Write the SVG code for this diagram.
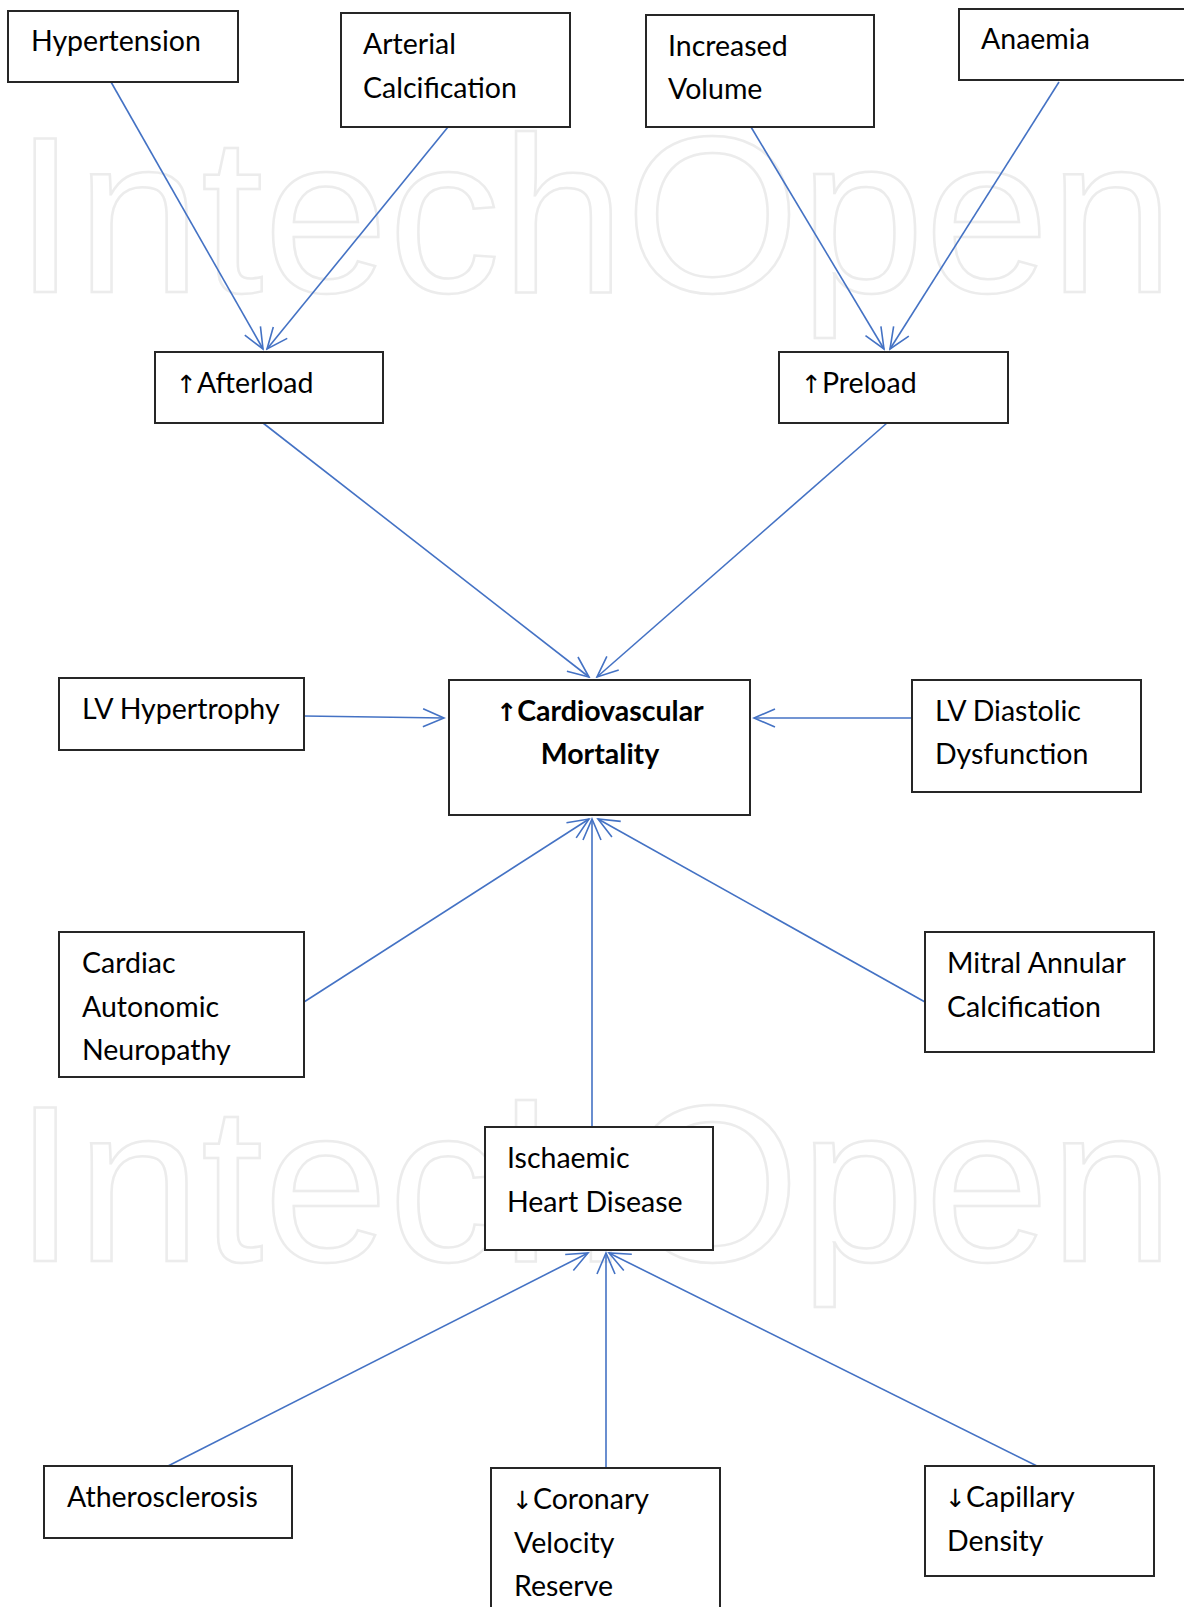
<svg xmlns="http://www.w3.org/2000/svg" width="1184" height="1607" viewBox="0 0 1184 1607">
<style>
.bg{fill:#fff}
.wm{font-family:"Liberation Sans",Arial,sans-serif;font-size:222px;fill:none;stroke:#ececec;stroke-width:2.5}
.box{fill:#fff;stroke:#262626;stroke-width:2}
.t{font-family:Lato,"Liberation Sans",sans-serif;font-size:28.5px;fill:#000}
.b{font-weight:bold}
.ar{font-family:"DejaVu Sans",sans-serif;font-size:25px}
.c{stroke:#4472C4;stroke-width:1.6;fill:none;marker-end:url(#ah)}
</style>
<defs>
<marker id="ah" markerUnits="userSpaceOnUse" markerWidth="24" markerHeight="22" viewBox="0 0 24 22" refX="22" refY="11" orient="auto">
<path d="M1,2 L22,11 L1,20" fill="none" stroke="#4472C4" stroke-width="1.6"/>
</marker>
</defs>
<rect class="bg" x="0" y="0" width="1184" height="1607"/>
<g id="watermark">
<text class="wm" x="14" y="292" textLength="1160" lengthAdjust="spacingAndGlyphs">IntechOpen</text>
<text class="wm" x="14" y="1261" textLength="1160" lengthAdjust="spacingAndGlyphs">IntechOpen</text>
</g>
<g id="connectors">
<line class="c" x1="111" y1="82" x2="263" y2="349"/>
<line class="c" x1="448" y1="127" x2="267" y2="349"/>
<line class="c" x1="751" y1="127" x2="884" y2="349"/>
<line class="c" x1="1059" y1="82" x2="890" y2="349"/>
<line class="c" x1="263" y1="423" x2="589" y2="677"/>
<line class="c" x1="887" y1="423" x2="597" y2="677"/>
<line class="c" x1="304" y1="716" x2="444" y2="718"/>
<line class="c" x1="912" y1="718" x2="754" y2="718"/>
<line class="c" x1="304" y1="1002" x2="589" y2="819"/>
<line class="c" x1="592" y1="1127" x2="592" y2="819"/>
<line class="c" x1="925" y1="1002" x2="598" y2="819"/>
<line class="c" x1="168" y1="1466" x2="588" y2="1253"/>
<line class="c" x1="606" y1="1468" x2="606" y2="1253"/>
<line class="c" x1="1037" y1="1466" x2="609" y2="1253"/>
</g>
<g id="hypertension"><rect class="box" x="8" y="11" width="230" height="71"/><text class="t" x="31" y="51">Hypertension</text></g>
<g id="arterial-calcification"><rect class="box" x="341" y="13" width="229" height="114"/><text class="t" x="363" y="54">Arterial</text><text class="t" x="363" y="98">Calcification</text></g>
<g id="increased-volume"><rect class="box" x="646" y="15" width="228" height="112"/><text class="t" x="668" y="56">Increased</text><text class="t" x="668" y="99">Volume</text></g>
<g id="anaemia"><rect class="box" x="959" y="9" width="240" height="71"/><text class="t" x="981" y="49">Anaemia</text></g>
<g id="afterload"><rect class="box" x="155" y="352" width="228" height="71"/><text class="t" x="176" y="393"><tspan class="ar">↑</tspan>Afterload</text></g>
<g id="preload"><rect class="box" x="779" y="352" width="229" height="71"/><text class="t" x="801" y="393"><tspan class="ar">↑</tspan>Preload</text></g>
<g id="cv-mortality"><rect class="box" x="449" y="680" width="301" height="135"/><text class="t b" x="600" y="721" text-anchor="middle"><tspan class="ar">↑</tspan>Cardiovascular</text><text class="t b" x="600" y="764" text-anchor="middle">Mortality</text></g>
<g id="lv-hypertrophy"><rect class="box" x="59" y="678" width="245" height="72"/><text class="t" x="82" y="719">LV Hypertrophy</text></g>
<g id="lv-diastolic"><rect class="box" x="912" y="680" width="229" height="112"/><text class="t" x="935" y="721">LV Diastolic</text><text class="t" x="935" y="764">Dysfunction</text></g>
<g id="cardiac-autonomic"><rect class="box" x="59" y="932" width="245" height="145"/><text class="t" x="82" y="973">Cardiac</text><text class="t" x="82" y="1017">Autonomic</text><text class="t" x="82" y="1060">Neuropathy</text></g>
<g id="mitral-annular"><rect class="box" x="925" y="932" width="229" height="120"/><text class="t" x="947" y="973">Mitral Annular</text><text class="t" x="947" y="1017">Calcification</text></g>
<g id="ischaemic"><rect class="box" x="485" y="1127" width="228" height="123"/><text class="t" x="507" y="1168">Ischaemic</text><text class="t" x="507" y="1212">Heart Disease</text></g>
<g id="atherosclerosis"><rect class="box" x="44" y="1466" width="248" height="72"/><text class="t" x="67" y="1507">Atherosclerosis</text></g>
<g id="coronary"><rect class="box" x="491" y="1468" width="229" height="160"/><text class="t" x="512" y="1509"><tspan class="ar">↓</tspan>Coronary</text><text class="t" x="514" y="1553">Velocity</text><text class="t" x="514" y="1596">Reserve</text></g>
<g id="capillary"><rect class="box" x="925" y="1466" width="229" height="110"/><text class="t" x="945" y="1507"><tspan class="ar">↓</tspan>Capillary</text><text class="t" x="947" y="1551">Density</text></g>
</svg>
